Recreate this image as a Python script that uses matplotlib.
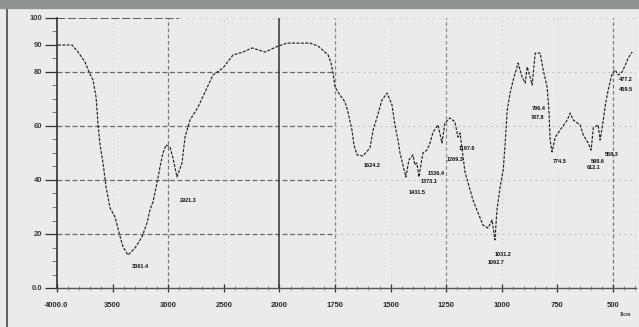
import numpy as np
import matplotlib
matplotlib.use("Agg")
import matplotlib.pyplot as plt
from matplotlib.patches import Rectangle
from matplotlib.lines import Line2D

# ----------------------------
# Spectrum data (wavenumber in 1/cm, transmittance in %T)
# ----------------------------
wavenumber = [
    3991, 3865, 3811, 3748, 3712, 3676, 3649, 3640, 3631, 3613,
    3586, 3559, 3523, 3478, 3442, 3406, 3361.4, 3299, 3236, 3191,
    3164, 3137, 3101, 3074, 3047, 3020, 2984, 2957, 2921.3, 2876,
    2849, 2804, 2732, 2651, 2597, 2507, 2417, 2327, 2246, 2129,
    2012, 1966, 1862, 1826, 1781, 1768, 1759, 1750, 1728, 1705,
    1692, 1674, 1665, 1651, 1624.2, 1593, 1579, 1561, 1539, 1516,
    1494, 1481, 1467, 1458, 1445, 1431.5, 1418, 1400, 1391, 1382,
    1373.1, 1355, 1336.4, 1323, 1309, 1287, 1269.3, 1256, 1233, 1211,
    1197.6, 1188, 1166, 1143, 1130, 1107, 1085, 1062.7, 1044, 1031.2,
    1022, 1008, 994, 985, 976, 963, 949, 927, 909, 895,
    886, 873, 864, 850, 828, 814, 796.4, 787.8, 783, 774.5,
    760, 738, 706, 693, 679, 648, 634, 612.1, 598.6, 589,
    567, 558.3, 544, 535, 522, 504, 490, 477.2, 459.5, 445,
    432, 414,
]
transmittance = [
    90.0, 90.0, 87.4, 83.7, 80.0, 77.0, 70.7, 65.9, 60.4, 53.0,
    46.3, 37.4, 29.6, 26.3, 20.4, 15.2, 12.2, 14.8, 18.9, 24.1,
    28.9, 31.9, 38.9, 44.8, 50.0, 53.0, 52.2, 48.1, 41.1, 46.3,
    55.9, 62.2, 67.0, 74.1, 78.9, 81.5, 86.3, 87.4, 88.9, 87.4,
    89.6, 90.7, 90.7, 89.6, 86.3, 83.3, 79.6, 74.4, 71.5, 68.9,
    65.2, 58.5, 53.0, 49.3, 48.9, 51.9, 58.5, 63.3, 69.6, 72.2,
    67.8, 60.4, 54.8, 50.0, 45.6, 41.1, 47.4, 49.3, 45.6, 46.3,
    41.1, 50.0, 51.1, 53.7, 57.8, 60.4, 53.7, 61.1, 63.0, 61.5,
    55.9, 57.4, 43.0, 36.3, 32.6, 27.8, 23.3, 22.2, 25.2, 17.8,
    28.9, 37.4, 43.7, 53.7, 65.9, 72.2, 77.0, 83.3, 78.1, 75.9,
    81.9, 78.1, 75.2, 87.0, 87.0, 80.7, 74.4, 64.8, 54.8, 50.4,
    55.9, 58.5, 62.2, 64.8, 62.2, 60.4, 56.7, 53.7, 51.1, 59.3,
    60.4, 54.8, 62.2, 67.8, 73.3, 79.6, 80.7, 78.9, 80.0, 82.6,
    85.2, 87.4,
]

# picked peaks and where their labels sit (offset from the peak, pixels right/down)
peak_wn = [3361.4, 2921.3, 1624.2, 1431.5, 1373.1, 1336.4, 1269.3, 1197.6,
           1062.7, 1031.2, 796.4, 787.8, 774.5, 612.1, 598.6, 558.3, 477.2, 459.5]
label_offsets = [(12, 11), (11, 23), (9, 10), (11, 15), (10, 4), (9, 23), (13, 16), (9, 11),
                 (8, 34), (8, 15), (-8, 21), (-12, 4), (8, 10), (5, 24), (7, 11), (12, 14),
                 (8, 5), (4, 18)]

x_ticks = [4000, 3500, 3000, 2500, 2000, 1750, 1500, 1250, 1000, 750, 500]
x_labels = ["4000.0", "3500", "3000", "2500", "2000", "1750", "1500", "1250", "1000", "750", "500"]
y_ticks = [0, 20, 40, 60, 80, 90, 100]
y_labels = ["0.0", "20", "40", "60", "80", "90", "100"]

BG = "#ebebeb"
INK = "#222222"


# Shimadzu style axis: 500 cm-1 per division above 2000, 250 below.
# kept increasing in wavenumber so xlim(4000, ...) puts 4000 on the left
def wn_to_div(w):
    w = np.asarray(w, dtype=float)
    return -np.where(w >= 2000, (4000 - w) / 500.0, 4 + (2000 - w) / 250.0)


def div_to_wn(u):
    u = -np.asarray(u, dtype=float)
    return np.where(u <= 4, 4000 - 500.0 * u, 2000 - 250.0 * (u - 4))


W, H = 639, 327
fig = plt.figure(figsize=(W / 100, H / 100), dpi=100, facecolor=BG)
ax = fig.add_axes([57 / W, 39 / H, 579 / W, 270 / H], facecolor=BG)
ax.set_xscale("function", functions=(wn_to_div, div_to_wn))
ax.set_xlim(4000, 397)
ax.set_ylim(0, 100)

# frame
for side in ("top", "right"):
    ax.spines[side].set_visible(False)
ax.spines["left"].set_color("#222222")
ax.spines["left"].set_linewidth(1.1)
ax.spines["bottom"].set_color("#555555")
ax.spines["bottom"].set_linewidth(1.0)

# horizontal grid, darker on the left half
for yv in [20, 40, 60, 80]:
    ax.plot([4000, 1750], [yv, yv], color="#6a6a6a", lw=0.9, ls=(0, (4, 2)), zorder=1)
    ax.plot([1750, 397], [yv, yv], color="#c4c4c4", lw=0.8, ls=(0, (2, 3)), zorder=1)
ax.plot([4000, 2900], [100, 100], color="#444444", lw=1.2, ls=(0, (5, 1.5)), zorder=1)
ax.plot([2900, 397], [100, 100], color="#d2d2d2", lw=0.8, ls=(0, (2, 4)), zorder=1)

# vertical grid
grid_styles = {
    3500: ("#d0d0d0", 0.7, (0, (1, 3))),
    3000: ("#7a7a7a", 0.9, (0, (3, 2))),
    2500: ("#c8c8c8", 0.8, (0, (1, 3))),
    2000: ("#333333", 1.1, "-"),
    1750: ("#8a8a8a", 0.9, (0, (3, 2))),
    1500: ("#d4d4d4", 0.7, (0, (1, 3))),
    1250: ("#8a8a8a", 0.9, (0, (3, 2))),
    1000: ("#c8c8c8", 0.8, (0, (1, 3))),
    750: ("#d8d8d8", 0.7, (0, (1, 3))),
    500: ("#7a7a7a", 0.9, (0, (3, 2))),
    397: ("#a0a0a0", 0.9, (0, (3, 2))),
}
for xv, (c, lw, ls) in grid_styles.items():
    ax.plot([xv, xv], [0, 100], color=c, lw=lw, ls=ls, zorder=1)

# ticks
ax.set_xticks(x_ticks)
ax.set_xticklabels(x_labels)
minor_x = list(np.arange(3900, 2000, -100)) + list(np.arange(1950, 397, -50))
ax.set_xticks(minor_x, minor=True)
ax.tick_params(axis="x", which="major", direction="inout", length=6, width=0.9,
               color="#333333", pad=7, labelsize=5.5, labelcolor="#2a2a2a")
ax.tick_params(axis="x", which="minor", direction="inout", length=3, width=0.7, color="#888888")
for t in ax.get_xticklabels():
    t.set_fontweight("bold")
    t.set_family("Liberation Sans")

ax.set_yticks(y_ticks)
ax.set_yticklabels(y_labels)
ax.set_yticks(np.arange(5, 100, 5), minor=True)
ax.tick_params(axis="y", which="major", direction="out", length=9, width=0.9,
               color="#333333", pad=1.5, labelsize=5.5, labelcolor="#3a3a3a")
ax.tick_params(axis="y", which="minor", direction="out", length=3.5, width=0.7, color="#777777")
for t in ax.get_yticklabels():
    t.set_fontweight("bold")
    t.set_family("Liberation Sans")

# spectrum trace
ax.plot(wavenumber, transmittance, color=INK, lw=0.85, ls=(0, (2.5, 1.2)), zorder=3)

# peak labels
for w, (dx, dy) in zip(peak_wn, label_offsets):
    t_val = transmittance[wavenumber.index(w)]
    ax.annotate(f"{w:.1f}", xy=(w, t_val), xytext=(dx * 0.72, -dy * 0.72),
                textcoords="offset points", ha="center", va="center",
                fontsize=4.0, fontweight="bold", family="Liberation Sans",
                color="#111111", zorder=4)

fig.text(625 / W, 1 - 314 / H, "1/cm", fontsize=3.6, fontweight="bold",
         family="Liberation Sans", color="#333333", ha="center", va="center")

# header band and left page edge
fig.patches.append(Rectangle((0, 1 - 8 / H), 1, 8 / H, transform=fig.transFigure,
                             color="#8f9392", zorder=5))
fig.lines.append(Line2D([7 / W, 7 / W], [0, 1 - 8 / H], transform=fig.transFigure,
                        color="#4a4a4a", lw=1.2))

fig.savefig("out.png", dpi=100, facecolor=BG)
